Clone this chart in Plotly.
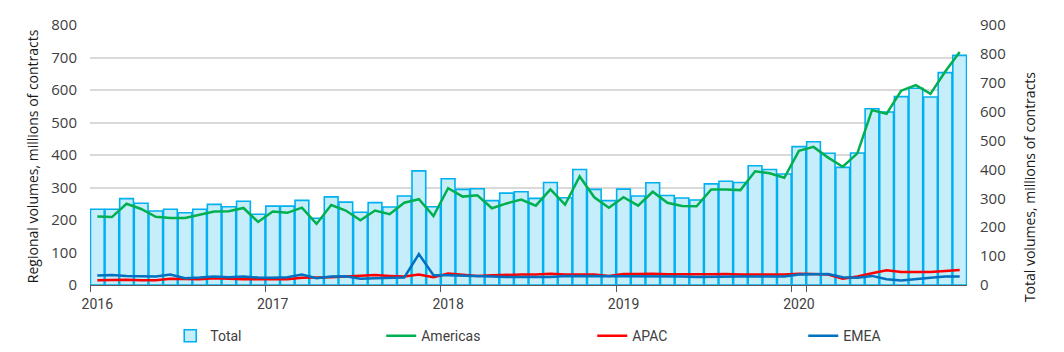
import plotly.graph_objects as go

years = ["2016", "2017", "2018", "2019", "2020"]
months = [f"{y}-{m:02d}" for y in years for m in range(1, 13)]

total = [262, 262, 299, 283, 256, 262, 250, 262, 279, 271, 290, 245,
         273, 273, 293, 231, 305, 287, 252, 285, 270, 308, 395, 271,
         368, 331, 333, 292, 318, 323, 300, 355, 302, 400, 331, 292,
         332, 308, 354, 310, 301, 294, 350, 359, 355, 413, 400, 384,
         479, 496, 456, 407, 457, 610, 599, 652, 681, 651, 735, 795]

americas = [211, 209, 250, 234, 210, 206, 206, 216, 226, 227, 237, 194,
            226, 222, 238, 188, 246, 229, 199, 229, 218, 253, 264, 212,
            298, 272, 276, 236, 251, 263, 244, 294, 247, 334, 270, 238,
            270, 244, 287, 253, 243, 242, 294, 294, 292, 350, 344, 330,
            413, 425, 392, 364, 405, 538, 527, 598, 615, 588, 656, 717]

apac = [15, 16, 16, 15, 15, 19, 18, 18, 21, 19, 18, 18,
        17, 18, 22, 22, 24, 26, 29, 31, 28, 26, 32, 24,
        35, 32, 28, 30, 32, 32, 32, 35, 32, 32, 32, 28,
        34, 34, 35, 33, 34, 33, 33, 34, 32, 33, 32, 32,
        35, 34, 32, 19, 26, 36, 45, 40, 40, 40, 43, 46]

emea = [29, 31, 28, 26, 26, 32, 21, 23, 26, 24, 26, 23,
        22, 24, 32, 21, 26, 27, 19, 21, 22, 23, 95, 30,
        30, 28, 27, 26, 25, 25, 26, 25, 28, 28, 27, 26,
        28, 27, 27, 27, 26, 25, 26, 25, 26, 26, 27, 26,
        32, 34, 34, 24, 22, 28, 18, 14, 19, 22, 26, 26]

tick_vals = [f"{y}-01" for y in years]
tick_text = years

left_title = "Regional volumes, millions of contracts"
right_title = "Total volumes, millions of contracts"

narrow = "Liberation Sans Narrow, Arial Narrow, Roboto, sans-serif"
reg = "Open Sans, Noto Sans, sans-serif"

fig = go.Figure()
fig.add_trace(go.Bar(
    x=months, y=total, name="Total", yaxis="y",
    marker=dict(color="#C6EDFA", line=dict(color="#00B0F0", width=1.6)),
))
fig.add_trace(go.Scatter(
    x=months, y=americas, name="Americas", yaxis="y2", mode="lines",
    line=dict(color="#00B050", width=2.5),
))
fig.add_trace(go.Scatter(
    x=months, y=apac, name="APAC", yaxis="y2", mode="lines",
    line=dict(color="#FF0000", width=2.5),
))
fig.add_trace(go.Scatter(
    x=months, y=emea, name="EMEA", yaxis="y2", mode="lines",
    line=dict(color="#0070C0", width=2.5),
))

fig.update_layout(
    width=1064, height=352,
    margin=dict(l=90, r=97, t=25, b=67, autoexpand=False),
    paper_bgcolor="white", plot_bgcolor="white",
    bargap=0.06,
    showlegend=True,
    legend=dict(
        orientation="h", xref="container", x=0.16, xanchor="left",
        y=-0.135, yanchor="top",
        entrywidth=166, entrywidthmode="pixels",
        font=dict(family=narrow, size=14, color="#404040"),
        traceorder="normal",
    ),
    xaxis=dict(
        type="category", categoryorder="array", categoryarray=months,
        tickmode="array", tickvals=tick_vals, ticktext=tick_text,
        tickson="boundaries", ticks="outside", ticklen=6, tickcolor="#595959",
        tickangle=0, ticklabelstandoff=6,
        showline=True, linecolor="#595959", linewidth=1,
        showgrid=False,
        tickfont=dict(family=narrow, size=14, color="#404040"),
        range=[-0.5, 59.5],
    ),
    yaxis=dict(
        side="right", range=[0, 900], dtick=100, showgrid=False,
        zeroline=False, ticks="", ticklabelstandoff=12,
        tickfont=dict(family=reg, size=15, color="#404040"),
    ),
    yaxis2=dict(
        overlaying="y", side="left", range=[0, 800], dtick=100,
        showgrid=True, gridcolor="#D9D9D9", gridwidth=1.5, zeroline=False,
        ticks="", ticklabelstandoff=12,
        tickfont=dict(family=reg, size=15, color="#404040"),
    ),
    annotations=[
        dict(text=left_title, xref="paper", yref="paper", x=-0.066, y=0.496,
             xanchor="center", yanchor="middle", textangle=-90, showarrow=False,
             font=dict(family=reg, size=14, color="#1a1a1a")),
        dict(text=right_title, xref="paper", yref="paper", x=1.072, y=0.377,
             xanchor="center", yanchor="middle", textangle=-90, showarrow=False,
             font=dict(family=reg, size=14, color="#1a1a1a")),
    ],
)

fig.write_html("out.html")
